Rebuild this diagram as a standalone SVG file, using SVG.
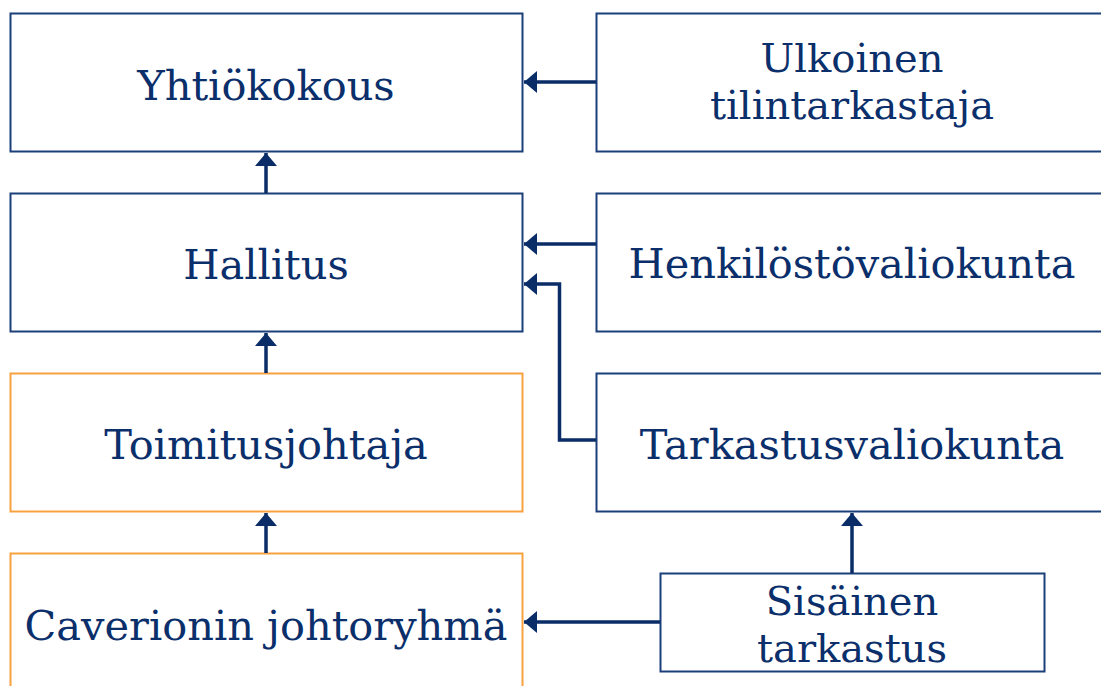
<svg xmlns="http://www.w3.org/2000/svg" width="1101" height="686" viewBox="0 0 1101 686">
<style>
.box{fill:#ffffff;stroke:#1b3f78;stroke-width:2}
.org{fill:#ffffff;stroke:#f7a23e;stroke-width:2}
.t{font-family:"DejaVu Serif",serif;font-size:41.5px;fill:#0b2f6b;text-anchor:middle}
.t2{font-size:40px}
.c{fill:none;stroke:#0a2d68;stroke-width:3.5}
</style>
<defs>
<marker id="ah" viewBox="0 0 13 22" refX="13" refY="11" markerWidth="13" markerHeight="22" markerUnits="userSpaceOnUse" orient="auto">
<path d="M0,0 L13,11 L0,22 Z" fill="#0a2d68"/>
</marker>
</defs>
<rect width="1101" height="686" fill="#ffffff"/>
<g id="yhtiokokous"><rect class="box" x="10.5" y="13.5" width="512" height="138"/><text class="t" x="266" y="100">Yhtiökokous</text></g>
<g id="ulkoinen"><rect class="box" x="596.5" y="13.5" width="512" height="138"/><text class="t t2" x="852" y="72">Ulkoinen<tspan x="852" y="119">tilintarkastaja</tspan></text></g>
<g id="hallitus"><rect class="box" x="10.5" y="193.5" width="512" height="138"/><text class="t" x="266" y="279">Hallitus</text></g>
<g id="henkilosto"><rect class="box" x="596.5" y="193.5" width="512" height="138"/><text class="t" x="852" y="278">Henkilöstövaliokunta</text></g>
<g id="toimitusjohtaja"><rect class="org" x="10.5" y="373.5" width="512" height="138"/><text class="t" x="266" y="459">Toimitusjohtaja</text></g>
<g id="tarkastusvaliokunta"><rect class="box" x="596.5" y="373.5" width="512" height="138"/><text class="t" x="852" y="459">Tarkastusvaliokunta</text></g>
<g id="johtoryhma"><rect class="org" x="10.5" y="553.5" width="512" height="138"/><text class="t" x="266" y="640">Caverionin johtoryhmä</text></g>
<g id="sisainen"><rect class="box" x="660.5" y="573.5" width="384" height="98"/><text class="t t2" x="852" y="615">Sisäinen<tspan x="852" y="662">tarkastus</tspan></text></g>
<g id="connectors">
<path class="c" d="M596,82 H524" marker-end="url(#ah)"/>
<path class="c" d="M266,193 V153" marker-end="url(#ah)"/>
<path class="c" d="M596,244 H524" marker-end="url(#ah)"/>
<path class="c" d="M596,440 H559.5 V284 H524" marker-end="url(#ah)"/>
<path class="c" d="M266,373 V333" marker-end="url(#ah)"/>
<path class="c" d="M266,553 V513" marker-end="url(#ah)"/>
<path class="c" d="M660,622 H524" marker-end="url(#ah)"/>
<path class="c" d="M852,573 V513" marker-end="url(#ah)"/>
</g>
</svg>
